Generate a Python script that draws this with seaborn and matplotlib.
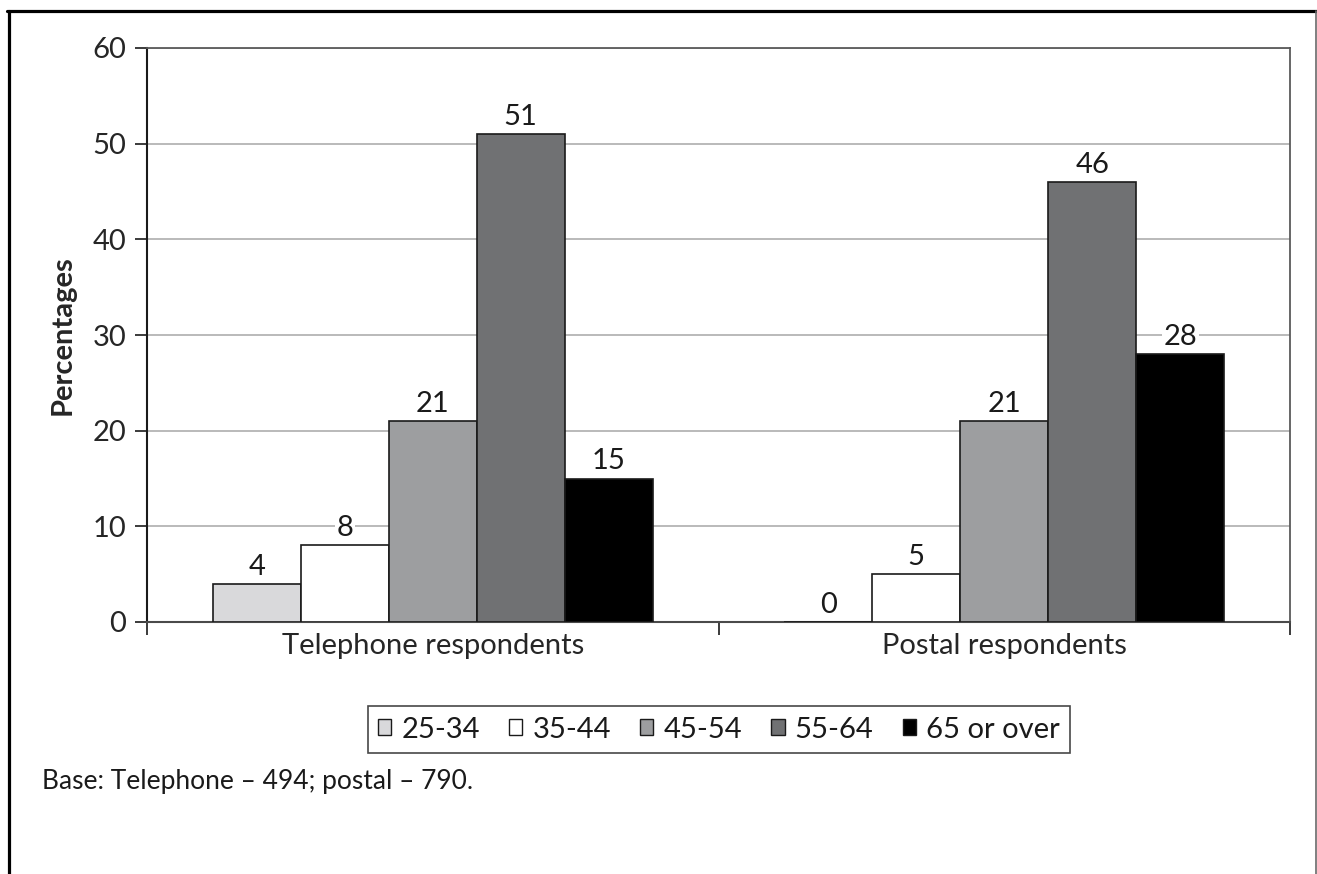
import matplotlib
matplotlib.use("Agg")
import matplotlib.pyplot as plt
from matplotlib.lines import Line2D
from matplotlib.patches import Patch
import pandas as pd
import seaborn as sns

# Respondent age distribution by survey mode
modes = ["Telephone respondents", "Postal respondents"]
age_groups = ["25-34", "35-44", "45-54", "55-64", "65 or over"]
telephone_pct = [4, 8, 21, 51, 15]
postal_pct = [0, 5, 21, 46, 28]
age_colors = ["#d9d9db", "#ffffff", "#9d9ea0", "#707173", "#000000"]
y_ticks = [0, 10, 20, 30, 40, 50, 60]
footnote = "Base: Telephone \u2013 494; postal \u2013 790."

rows = []
for mode, vals in zip(modes, [telephone_pct, postal_pct]):
    for age, v in zip(age_groups, vals):
        rows.append({"mode": mode, "age": age, "pct": v})
df = pd.DataFrame(rows)

sns.set_theme(style="white")
plt.rcParams["font.family"] = ["Lato", "DejaVu Sans"]
plt.rcParams["text.color"] = "#1a1a1a"

fig = plt.figure(figsize=(13.17, 8.74), dpi=100)
ax = fig.add_axes([147 / 1317, 1 - 622 / 874, (1290 - 147) / 1317, (622 - 48) / 874])

palette = dict(zip(age_groups, age_colors))
sns.barplot(data=df, x="mode", y="pct", hue="age", order=modes, hue_order=age_groups,
            palette=palette, width=0.77, gap=0, edgecolor="#1a1a1a", linewidth=1.2,
            saturation=1, legend=False, ax=ax, zorder=3)

ax.set_ylim(0, 60)
ax.set_xlim(-0.5, 1.5)
ax.set_yticks(y_ticks)
ax.set_yticklabels([str(t) for t in y_ticks], fontsize=21)
ax.yaxis.grid(True, color="#b4b4b4", linewidth=1.3, zorder=0)
ax.xaxis.grid(False)
ax.set_axisbelow(True)

# Category boundary ticks, labels centred under each group
ax.set_xticks([-0.5, 0.5, 1.5])
ax.set_xticklabels([])
ax.set_xticks([0, 1], minor=True)
ax.set_xticklabels(modes, minor=True, fontsize=21)
ax.tick_params(axis="x", which="major", length=9, width=1.2, color="#1a1a1a", direction="out", bottom=True)
ax.tick_params(axis="x", which="minor", length=0, pad=8)
ax.tick_params(axis="y", length=9, width=1.2, color="#1a1a1a", direction="out", left=True, pad=6)
ax.set_xlabel("")
ax.set_ylabel("Percentages", fontsize=21, fontweight="bold", labelpad=12)

for side in ["top", "right"]:
    ax.spines[side].set_visible(True)
    ax.spines[side].set_color("#5a5a5a")
    ax.spines[side].set_linewidth(1.3)
ax.spines["left"].set_color("#1a1a1a")
ax.spines["left"].set_linewidth(1.5)
ax.spines["bottom"].set_color("#4a4a4a")
ax.spines["bottom"].set_linewidth(1.5)

for cont in ax.containers:
    labels = ax.bar_label(cont, fmt="%d", padding=3, fontsize=21, color="#1a1a1a")
    for t in labels:
        t.set_bbox(dict(facecolor="white", edgecolor="none", pad=1))
        t.set_zorder(4)

handles = [Patch(facecolor=c, edgecolor="#1a1a1a", linewidth=1.0) for c in age_colors]
leg = fig.legend(handles, age_groups, loc="center", ncol=5,
                 bbox_to_anchor=(719 / 1317, 1 - 729.5 / 874), fontsize=21,
                 frameon=True, fancybox=False, edgecolor="#1a1a1a",
                 handlelength=0.45, handleheight=0.45, handletextpad=0.35,
                 columnspacing=1.0, borderpad=0.35)
leg.get_frame().set_linewidth(1.2)

fig.text(42 / 1317, 1 - 781 / 874, footnote, fontsize=19, va="center", ha="left")

# Outer frame around the figure
fig.add_artist(Line2D([7 / 1317, 1], [1 - 10.5 / 874] * 2, transform=fig.transFigure, color="black", linewidth=2.3))
fig.add_artist(Line2D([8.5 / 1317] * 2, [0, 1 - 10.5 / 874], transform=fig.transFigure, color="black", linewidth=2.3))
fig.add_artist(Line2D([1315.5 / 1317] * 2, [0, 1 - 10.5 / 874], transform=fig.transFigure, color="#6a6a6a", linewidth=1.2))

fig.savefig("out.png", dpi=100, facecolor="white")
